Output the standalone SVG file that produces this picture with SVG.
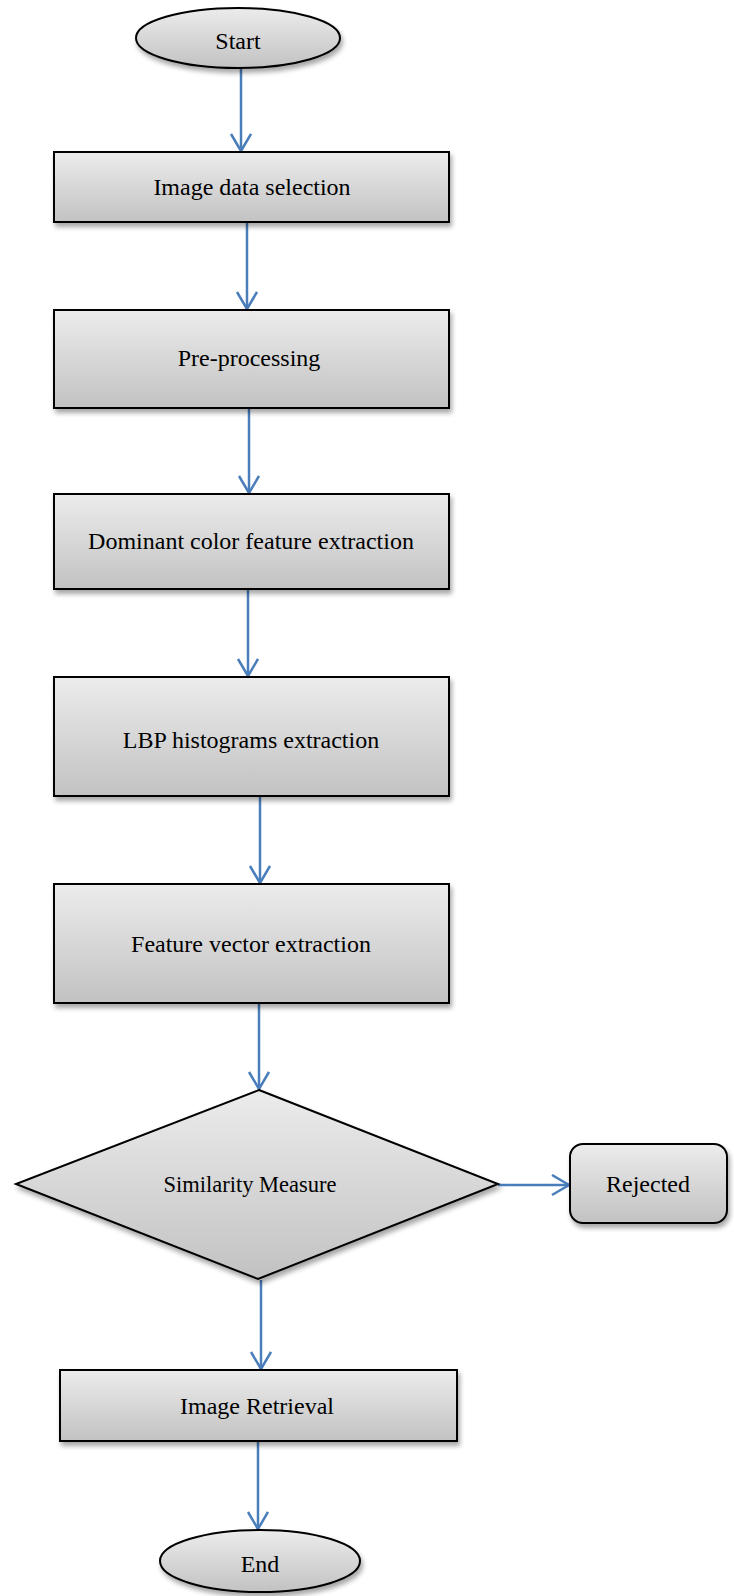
<svg xmlns="http://www.w3.org/2000/svg" width="734" height="1596" viewBox="0 0 734 1596">
<defs>
<linearGradient id="g" x1="0" y1="0" x2="0" y2="1">
<stop offset="0" stop-color="#ececec"/>
<stop offset="1" stop-color="#c2c2c2"/>
</linearGradient>
<filter id="sh" x="-10%" y="-10%" width="125%" height="130%">
<feGaussianBlur in="SourceAlpha" stdDeviation="2.5"/>
<feOffset dx="2" dy="4" result="b"/>
<feComponentTransfer><feFuncA type="linear" slope="0.35"/></feComponentTransfer>
<feMerge><feMergeNode/><feMergeNode in="SourceGraphic"/></feMerge>
</filter>
<marker id="ah" markerWidth="24" markerHeight="24" refX="18" refY="11" orient="auto" markerUnits="userSpaceOnUse">
<path d="M1,1 L18,11 L1,21" fill="none" stroke="#4a7ebb" stroke-width="2.5"/>
</marker>
</defs>
<style>
.n{fill:url(#g);stroke:#000;stroke-width:2;filter:url(#sh)}
.t{font-family:"Liberation Serif","Times New Roman",serif;font-size:24px;fill:#000;text-anchor:middle}
.c{stroke:#4a7ebb;stroke-width:2.5;fill:none;marker-end:url(#ah)}
</style>
<g id="connectors">
<line class="c" x1="241" y1="66" x2="241" y2="151"/>
<line class="c" x1="247" y1="222" x2="247" y2="309"/>
<line class="c" x1="249" y1="408" x2="249" y2="493"/>
<line class="c" x1="248" y1="589" x2="248" y2="676"/>
<line class="c" x1="260" y1="796" x2="260" y2="883"/>
<line class="c" x1="259" y1="1003" x2="259" y2="1089"/>
<line class="c" x1="498" y1="1185" x2="569" y2="1185"/>
<line class="c" x1="261" y1="1280" x2="261" y2="1369"/>
<line class="c" x1="258" y1="1441" x2="258" y2="1529"/>
</g>
<g id="start"><ellipse class="n" cx="238" cy="38" rx="102" ry="30"/><text class="t" x="238" y="49">Start</text></g>
<g id="n1"><rect class="n" x="54" y="152" width="395" height="70"/><text class="t" x="252" y="195">Image data selection</text></g>
<g id="n2"><rect class="n" x="54" y="310" width="395" height="98"/><text class="t" x="249" y="366">Pre-processing</text></g>
<g id="n3"><rect class="n" x="54" y="494" width="395" height="95"/><text class="t" x="251" y="549">Dominant color feature extraction</text></g>
<g id="n4"><rect class="n" x="54" y="677" width="395" height="119"/><text class="t" x="251" y="748">LBP histograms extraction</text></g>
<g id="n5"><rect class="n" x="54" y="884" width="395" height="119"/><text class="t" x="251" y="952">Feature vector extraction</text></g>
<g id="decision"><polygon class="n" points="259,1090 498,1184 258,1279 16,1184"/><text class="t" x="250" y="1192" style="font-size:22.5px">Similarity Measure</text></g>
<g id="rejected"><rect class="n" x="570" y="1144" width="157" height="79" rx="13"/><text class="t" x="648" y="1192">Rejected</text></g>
<g id="retrieval"><rect class="n" x="60" y="1370" width="397" height="71"/><text class="t" x="257" y="1414">Image Retrieval</text></g>
<g id="end"><ellipse class="n" cx="260" cy="1561" rx="100" ry="31"/><text class="t" x="260" y="1572">End</text></g>
</svg>
